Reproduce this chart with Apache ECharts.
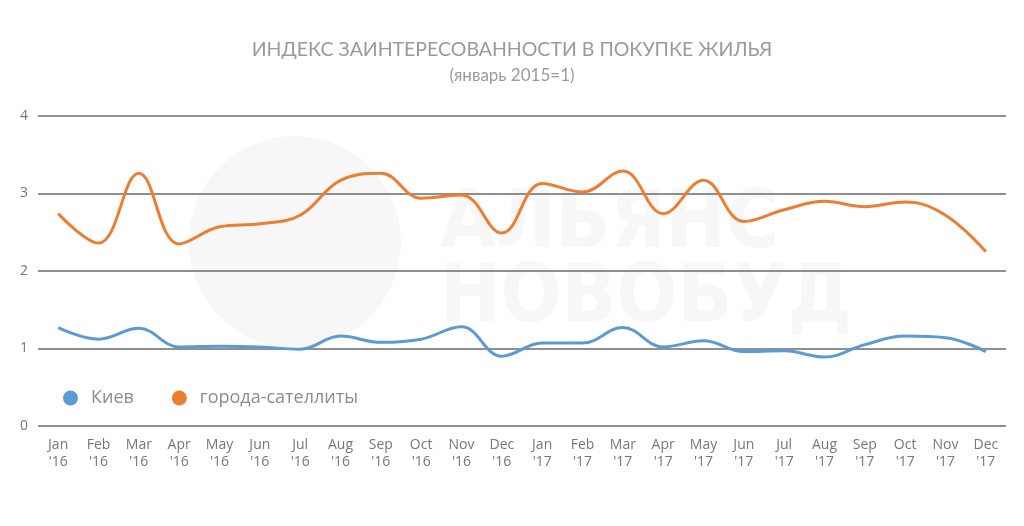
<!DOCTYPE html>
<html>
<head>
<meta charset="utf-8">
<script src="https://cdn.jsdelivr.net/npm/echarts@6/dist/echarts.min.js"></script>
<style>
  html, body { margin: 0; padding: 0; background: #fff; }
  #chart { width: 1024px; height: 526px; }
</style>
</head>
<body>
<div id="chart"></div>
<script>
// подписи оси X
let months = ["Jan\n'16", "Feb\n'16", "Mar\n'16", "Apr\n'16", "May\n'16", "Jun\n'16",
  "Jul\n'16", "Aug\n'16", "Sep\n'16", "Oct\n'16", "Nov\n'16", "Dec\n'16",
  "Jan\n'17", "Feb\n'17", "Mar\n'17", "Apr\n'17", "May\n'17", "Jun\n'17",
  "Jul\n'17", "Aug\n'17", "Sep\n'17", "Oct\n'17", "Nov\n'17", "Dec\n'17"]

let seriesNames = ["Киев", "города-сателлиты"]

let kiev = [1.27, 1.12, 1.26, 1.02, 1.03, 1.02, 0.99, 1.16, 1.08, 1.12, 1.28, 0.90,
  1.07, 1.07, 1.27, 1.02, 1.10, 0.96, 0.97, 0.89, 1.05, 1.16, 1.14, 0.96]

let satellites = [2.74, 2.36, 3.26, 2.35, 2.57, 2.61, 2.72, 3.17, 3.26, 2.94, 2.98, 2.49,
  3.13, 3.02, 3.29, 2.74, 3.17, 2.64, 2.79, 2.90, 2.83, 2.89, 2.72, 2.25]

let yTicks = [0, 1, 2, 3, 4]

let myChart = echarts.init(document.getElementById('chart'))

let option = {
  backgroundColor: '#fff',
  title: {
    text: 'ИНДЕКС ЗАИНТЕРЕСОВАННОСТИ В ПОКУПКЕ ЖИЛЬЯ',
    subtext: '(январь 2015=1)',
    left: 'center',
    top: 35,
    itemGap: 7,
    textStyle: { color: '#9a9a9a', fontSize: 19.5, fontWeight: 'normal', fontFamily: 'Lato' },
    subtextStyle: { color: '#9a9a9a', fontSize: 17, fontFamily: 'Lato' }
  },
  // водяной знак
  graphic: [
    { type: 'circle', shape: { cx: 295, cy: 242, r: 106 }, style: { fill: '#f7f7f7' }, z: -10, silent: true },
    { type: 'text', left: 440, top: 186, style: { text: 'АЛЬЯНС', fill: '#f7f7f7', font: 'bold 80px "DejaVu Sans Condensed"' }, z: -10, silent: true },
    { type: 'text', left: 440, top: 260, style: { text: 'НОВОБУД', fill: '#f7f7f7', font: 'bold 80px "DejaVu Sans Condensed"' }, z: -10, silent: true }
  ],
  legend: {
    left: 58,
    top: 384,
    icon: 'circle',
    itemWidth: 15,
    itemHeight: 15,
    itemGap: 38,
    textStyle: { color: '#8c8c8c', fontSize: 18, fontFamily: 'Open Sans', padding: [0, 0, 0, 8] },
    data: seriesNames
  },
  grid: {
    left: 38,
    right: 18,
    top: 116,
    bottom: 100
  },
  xAxis: {
    type: 'category',
    data: months,
    boundaryGap: true,
    axisLine: { show: false },
    axisTick: { show: false },
    axisLabel: { color: '#777', fontSize: 14, fontFamily: 'Open Sans', interval: 0, margin: 11, lineHeight: 17 }
  },
  yAxis: {
    type: 'value',
    min: yTicks[0],
    max: yTicks[yTicks.length - 1],
    interval: 1,
    axisLine: { show: false },
    axisTick: { show: false },
    axisLabel: { color: '#777', fontSize: 14, fontFamily: 'Open Sans', margin: 10 },
    splitLine: { lineStyle: { color: '#6b6b6b', width: 1.5 } }
  },
  series: [
    {
      name: seriesNames[0],
      type: 'line',
      data: kiev,
      smooth: 0.4,
      symbol: 'none',
      color: '#5b9bd5',
      lineStyle: { width: 3 }
    },
    {
      name: seriesNames[1],
      type: 'line',
      data: satellites,
      smooth: 0.4,
      symbol: 'none',
      color: '#ed7d31',
      lineStyle: { width: 3 }
    }
  ]
}

myChart.setOption(option)
</script>
</body>
</html>
